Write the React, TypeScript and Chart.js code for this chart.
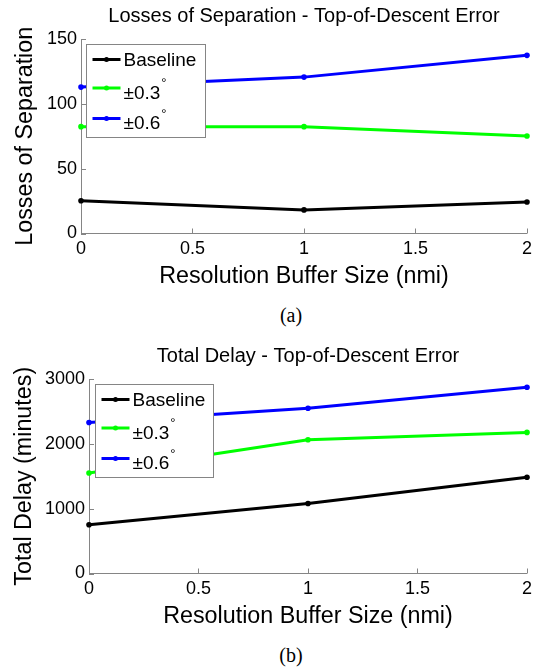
import React, { useEffect, useRef } from "react";
import { Chart, registerables } from "chart.js";

Chart.register(...registerables);

// ---- data ----
const bufferSizes = [0, 1, 2];
const xTicks = [0, 0.5, 1, 1.5, 2];
const seriesLabels = ["Baseline", "±0.3°", "±0.6°"];
const seriesColors = ["#000000", "#00ff00", "#0000ff"];

const lossBaseline = [25.3, 18.2, 24.3];
const lossPm03 = [82.4, 82.4, 75.2];
const lossPm06 = [112.9, 120.6, 137.4];
const lossTicks = [0, 50, 100, 150];

const delayBaseline = [753, 1080, 1485];
const delayPm03 = [1551, 2063, 2176];
const delayPm06 = [2330, 2550, 2873];
const delayTicks = [0, 1000, 2000, 3000];

const FONT = "'Liberation Sans', Arial, Helvetica, sans-serif";
const AXIS = "#858585";

const decorPlugin = {
  id: "decor",
  afterDatasetsDraw(chart: any, _args: any, opts: any) {
    const { ctx, chartArea, scales } = chart;
    const xs = scales.x;
    const ys = scales.y;
    ctx.save();
    // inward tick marks
    ctx.strokeStyle = AXIS;
    ctx.lineWidth = 1;
    xs.ticks.forEach((t: any) => {
      const px = Math.round(xs.getPixelForValue(t.value)) + 0.5;
      ctx.beginPath();
      ctx.moveTo(px, chartArea.bottom);
      ctx.lineTo(px, chartArea.bottom - 5);
      ctx.stroke();
    });
    ys.ticks.forEach((t: any) => {
      const py = Math.round(ys.getPixelForValue(t.value)) + 0.5;
      ctx.beginPath();
      ctx.moveTo(chartArea.left, py);
      ctx.lineTo(chartArea.left + 5, py);
      ctx.stroke();
    });

    // legend
    const bx = Math.round(chartArea.left + opts.dx) + 0.5;
    const by = Math.round(chartArea.top + 5) + 0.5;
    const bw = opts.width;
    const bh = 93;
    ctx.fillStyle = "#ffffff";
    ctx.fillRect(bx, by, bw, bh);
    ctx.strokeStyle = AXIS;
    ctx.strokeRect(bx, by, bw, bh);
    const lineY = [15, 43.5, 74];
    const textY = [16.5, 49, 79.5];
    chart.data.datasets.forEach((ds: any, i: number) => {
      const color = ds.borderColor;
      const ly = by + lineY[i];
      ctx.strokeStyle = color;
      ctx.lineWidth = 3;
      ctx.beginPath();
      ctx.moveTo(bx + 6, ly);
      ctx.lineTo(bx + 34, ly);
      ctx.stroke();
      ctx.fillStyle = color;
      ctx.beginPath();
      ctx.arc(bx + 20, ly, 2.5, 0, Math.PI * 2);
      ctx.fill();
      const label: string = ds.label;
      let main = label;
      let sup = "";
      if (label.endsWith("°")) {
        main = label.slice(0, -1);
        sup = "°";
      }
      ctx.fillStyle = "#000";
      ctx.font = `19px ${FONT}`;
      ctx.textAlign = "left";
      ctx.textBaseline = "middle";
      const tx = bx + 37;
      const ty = by + textY[i];
      ctx.fillText(main, tx, ty);
      if (sup) {
        const w = ctx.measureText(main).width;
        ctx.font = `13px ${FONT}`;
        ctx.textBaseline = "alphabetic";
        ctx.fillText(sup, tx + w + 1, ty - 6.5);
      }
    });
    ctx.restore();
  },
};

type PanelProps = {
  title: string;
  yTitle: string;
  series: number[][];
  yTicks: number[];
  yAxisWidth: number;
  yTitlePad: number;
  legendDx: number;
  legendWidth: number;
};

function Panel(props: PanelProps) {
  const ref = useRef<HTMLCanvasElement>(null);
  useEffect(() => {
    const { title, yTitle, series, yTicks, yAxisWidth, yTitlePad, legendDx, legendWidth } = props;
    const chart = new Chart(ref.current as HTMLCanvasElement, {
      type: "line",
      data: {
        datasets: series.map((vals, i) => ({
          label: seriesLabels[i],
          data: bufferSizes.map((x, j) => ({ x, y: vals[j] })),
          borderColor: seriesColors[i],
          backgroundColor: seriesColors[i],
          pointBackgroundColor: seriesColors[i],
          borderWidth: 3,
          pointRadius: 2.8,
          pointHoverRadius: 2.8,
          pointBorderWidth: 0,
          tension: 0,
          fill: false,
          clip: false,
        })),
      },
      options: {
        responsive: false,
        animation: false,
        events: [],
        layout: { padding: { left: 0, right: 9, top: 0, bottom: 0 } },
        plugins: {
          legend: { display: false },
          tooltip: { enabled: false },
          title: {
            display: true,
            text: title,
            fullSize: false,
            color: "#000",
            font: { family: FONT, size: 20, weight: "normal" },
            padding: { top: 4, bottom: 11 },
          },
          decor: { dx: legendDx, width: legendWidth },
        } as any,
        scales: {
          x: {
            type: "linear",
            min: xTicks[0],
            max: xTicks[xTicks.length - 1],
            afterBuildTicks: (s: any) => {
              s.ticks = xTicks.map((v) => ({ value: v }));
            },
            afterFit: (s: any) => {
              s.height = 66.5;
            },
            grid: { display: false, drawTicks: false },
            border: { display: true, color: AXIS, width: 1 },
            ticks: {
              color: "#000",
              font: { family: FONT, size: 18 },
              padding: 5,
              maxRotation: 0,
              autoSkip: false,
              callback: (v: any) => String(v),
            },
            title: {
              display: true,
              text: "Resolution Buffer Size (nmi)",
              color: "#000",
              font: { family: FONT, size: 23.3 },
              padding: { top: 0, bottom: 9 },
            },
          },
          y: {
            type: "linear",
            min: yTicks[0],
            max: yTicks[yTicks.length - 1],
            afterBuildTicks: (s: any) => {
              s.ticks = yTicks.map((v) => ({ value: v }));
            },
            afterFit: (s: any) => {
              s.width = yAxisWidth;
            },
            grid: { display: false, drawTicks: false },
            border: { display: true, color: AXIS, width: 1 },
            ticks: {
              color: "#000",
              font: { family: FONT, size: 18 },
              padding: 4,
              autoSkip: false,
              callback: (v: any) => String(v),
            },
            title: {
              display: true,
              text: yTitle,
              color: "#000",
              font: { family: FONT, size: 23.3 },
              padding: { top: yTitlePad, bottom: 0 },
            },
          },
        },
      } as any,
      plugins: [decorPlugin],
    });
    return () => chart.destroy();
  }, []);
  return <canvas ref={ref} width={537} height={300} style={{ width: 537, height: 300, display: "block" }} />;
}

const captionStyle: React.CSSProperties = {
  position: "absolute",
  left: 241,
  width: 100,
  textAlign: "center",
  fontFamily: "'Liberation Serif', 'Times New Roman', serif",
  fontSize: 20,
  lineHeight: "20px",
  color: "#000",
};

export default function App() {
  return (
    <div style={{ position: "absolute", top: 0, left: 0, width: 537, height: 671, background: "#fff" }}>
      <div style={{ position: "absolute", top: 0, left: 0 }}>
        <Panel
          title="Losses of Separation - Top-of-Descent Error"
          yTitle="Losses of Separation"
          series={[lossBaseline, lossPm03, lossPm06]}
          yTicks={lossTicks}
          yAxisWidth={81}
          yTitlePad={12}
          legendDx={5}
          legendWidth={119}
        />
      </div>
      <div style={{ ...captionStyle, top: 305 }}>(a)</div>
      <div style={{ position: "absolute", top: 340, left: 0 }}>
        <Panel
          title="Total Delay - Top-of-Descent Error"
          yTitle="Total Delay (minutes)"
          series={[delayBaseline, delayPm03, delayPm06]}
          yTicks={delayTicks}
          yAxisWidth={89}
          yTitlePad={10.5}
          legendDx={6}
          legendWidth={118}
        />
      </div>
      <div style={{ ...captionStyle, top: 645 }}>(b)</div>
    </div>
  );
}
